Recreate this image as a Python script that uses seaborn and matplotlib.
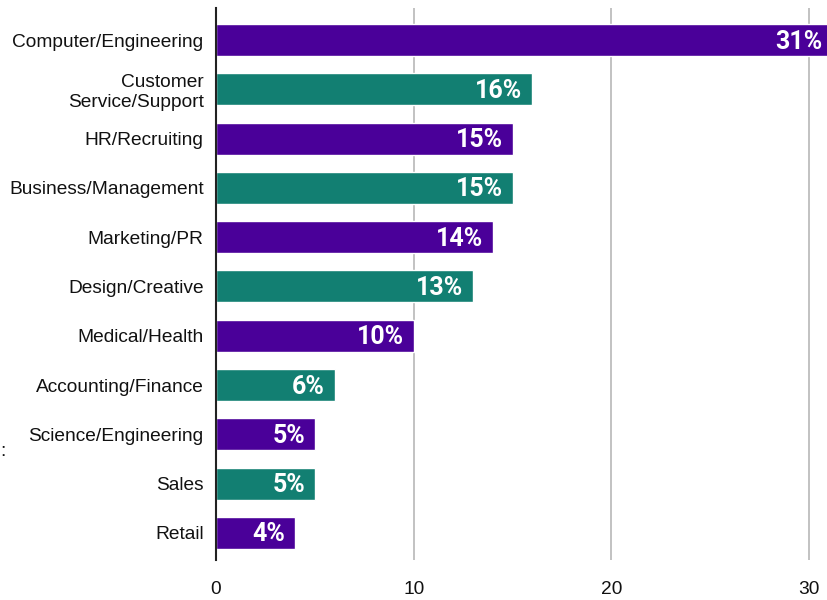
import matplotlib.pyplot as plt
import pandas as pd
import seaborn as sns

categories = [
    "Computer/Engineering",
    "Customer\nService/Support",
    "HR/Recruiting",
    "Business/Management",
    "Marketing/PR",
    "Design/Creative",
    "Medical/Health",
    "Accounting/Finance",
    "Science/Engineering",
    "Sales",
    "Retail",
]
values = [31, 16, 15, 15, 14, 13, 10, 6, 5, 5, 4]
groups = ["a", "b"] * 6
groups = groups[: len(categories)]

purple = "#4a0099"
teal = "#127f72"

df = pd.DataFrame({"field": categories, "pct": values, "grp": groups})

sns.set_style("white")
plt.rcParams["font.family"] = ["Liberation Sans", "DejaVu Sans"]

fig = plt.figure(figsize=(8.27, 6), dpi=100)
ax = fig.add_axes([216 / 827, 40 / 600, 1 - 216 / 827, 552 / 600])

sns.barplot(
    data=df, y="field", x="pct", hue="grp", orient="h",
    palette={"a": purple, "b": teal}, dodge=False, width=0.65,
    legend=False, ax=ax, saturation=1,
)

ax.set_xlim(0, 30.9)
ax.set_ylim(10.55, -0.65)
ax.set_xticks([0, 10, 20, 30])
ax.xaxis.grid(True, color="#b8b8b8", linewidth=1.2)
ax.set_axisbelow(True)
for s in ["top", "right", "bottom"]:
    ax.spines[s].set_visible(False)
ax.spines["left"].set_color("#222222")
ax.spines["left"].set_linewidth(1.5)
ax.tick_params(axis="both", length=0, labelsize=13.8, colors="#111111")
ax.tick_params(axis="x", pad=15)
ax.tick_params(axis="y", pad=9)
ax.set_xlabel("")
ax.set_ylabel("")

# labels inside the bars, right aligned
for i, v in enumerate(values):
    xpos = 30.9 - 0.25 if v > 30.9 else v - 0.5
    ax.text(xpos, i + 0.03, f"{v}%", ha="right", va="center", color="white",
            fontsize=18, fontweight="bold", family=["Roboto", "DejaVu Sans"])

fig.text(0.0, (600 - 456) / 600, ":", fontsize=14, color="#111111")

fig.savefig("out.png", dpi=100)
